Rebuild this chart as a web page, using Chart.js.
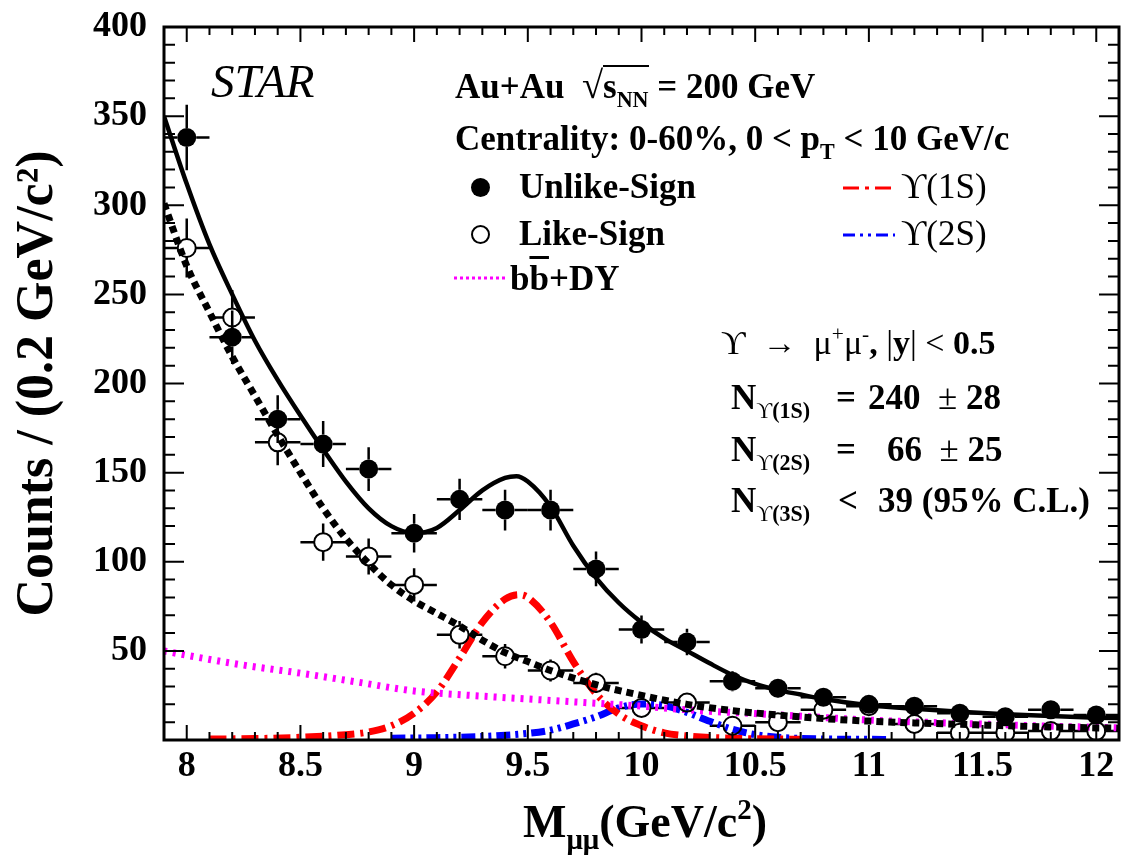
<!DOCTYPE html>
<html>
<head>
<meta charset="utf-8">
<script src="https://cdn.jsdelivr.net/npm/chart.js@4.4.0/dist/chart.umd.min.js"></script>
<style>
    html, body { margin: 0; padding: 0; background: #fff; }
    #wrap { position: relative; width: 1130px; height: 860px; }
    #plot { position: absolute; left: 0; top: 0; }
    .t { position: absolute; white-space: nowrap; line-height: 1; color: #000;
         font-family: "Liberation Serif", "Times New Roman", serif; font-weight: bold; }
    .t sub { font-size: 0.63em; vertical-align: -0.42em; line-height: 0; }
    .t sup { font-size: 0.63em; vertical-align: 0.62em; line-height: 0; }
    .sym { font-weight: normal; }
    .mk { position: absolute; border-radius: 50%; box-sizing: border-box; }
    .smp { position: absolute; }
</style>
</head>
<body>
<div id="wrap">
    <canvas id="plot" width="1130" height="860"></canvas>

    <div class="t" style="left:211px; top:58px; font-size:47px; font-style:italic; font-weight:normal;">STAR</div>

    <div class="t" style="left:455px; top:66px; font-size:35px;">Au+Au&nbsp;&nbsp;<span class="sym" style="font-size:1.1em;">√</span><span style="border-top:2px solid #000;">s<sub>NN</sub></span> = 200 GeV</div>
    <div class="t" style="left:455px; top:121px; font-size:35px;">Centrality: 0-60%, 0 &lt; p<sub>T</sub> &lt; 10 GeV/c</div>

    <div class="mk" style="left:471px; top:178px; width:19px; height:19px; background:#000;"></div>
    <div class="t" style="left:519px; top:169px; font-size:35px;">Unlike-Sign</div>
    <svg class="smp" style="left:843px; top:184px;" width="52" height="8"><line x1="0" y1="4" x2="52" y2="4" stroke="#ff0000" stroke-width="3" stroke-dasharray="16 6 4 6"/></svg>
    <div class="t" style="left:901px; top:169px; font-size:35px; font-weight:normal;">ϒ(1S)</div>

    <div class="mk" style="left:471px; top:225px; width:19px; height:19px; border:2px solid #000;"></div>
    <div class="t" style="left:519px; top:216px; font-size:35px;">Like-Sign</div>
    <svg class="smp" style="left:843px; top:231px;" width="52" height="8"><line x1="0" y1="4" x2="52" y2="4" stroke="#0000ff" stroke-width="3" stroke-dasharray="12 5 3 5 3 5"/></svg>
    <div class="t" style="left:901px; top:216px; font-size:35px; font-weight:normal;">ϒ(2S)</div>

    <svg class="smp" style="left:454px; top:274px;" width="52" height="8"><line x1="0" y1="4" x2="52" y2="4" stroke="#ff00ff" stroke-width="3" stroke-dasharray="3 3"/></svg>
    <div class="t" style="left:510px; top:261px; font-size:35px;">b<span style="text-decoration:overline;">b</span>+DY</div>

    <div class="t" style="left:721px; top:326px; font-size:34px;"><span class="sym">ϒ&nbsp;&nbsp;→&nbsp;&nbsp;μ<sup>+</sup>μ<sup>-</sup></span>, <span class="sym">|</span>y<span class="sym">| &lt;</span> 0.5</div>

    <div class="t" style="left:731px; top:380px; font-size:35px;">N<sub><span class="sym">ϒ</span>(1S)</sub></div>
    <div class="t" style="left:836px; top:380px; font-size:35px;">=</div>
    <div class="t" style="left:868px; top:380px; font-size:35px;">240&nbsp;&nbsp;<span class="sym">±</span> 28</div>

    <div class="t" style="left:731px; top:432px; font-size:35px;">N<sub><span class="sym">ϒ</span>(2S)</sub></div>
    <div class="t" style="left:836px; top:432px; font-size:35px;">=</div>
    <div class="t" style="left:887px; top:432px; font-size:35px;">66&nbsp;&nbsp;<span class="sym">±</span> 25</div>

    <div class="t" style="left:731px; top:483px; font-size:35px;">N<sub><span class="sym">ϒ</span>(3S)</sub></div>
    <div class="t" style="left:838px; top:483px; font-size:35px;">&lt;</div>
    <div class="t" style="left:878px; top:483px; font-size:35px;">39 (95% C.L.)</div>

    <div class="t" style="left:645px; top:799px; font-size:46px; transform:translateX(-50%);">M<sub>μμ</sub>(GeV/c<sup>2</sup>)</div>
</div>

<script>
// dimuon invariant mass bins (bin centres, GeV/c^2), width 0.2
const binX = [8.0, 8.2, 8.4, 8.6, 8.8, 9.0, 9.2, 9.4, 9.6, 9.8, 10.0,
              10.2, 10.4, 10.6, 10.8, 11.0, 11.2, 11.4, 11.6, 11.8, 12.0];
const binHalfWidth = 0.1;

const unlike = [338, 226, 180, 166, 152, 116, 135, 129, 129, 96, 62,
                55, 33, 29, 24, 20, 19, 15, 13, 17, 14];
const unlikeErr = [18.4, 15.0, 13.4, 12.9, 12.3, 10.8, 11.6, 11.4, 11.4, 9.8, 7.9,
                   7.4, 5.7, 5.4, 4.9, 4.5, 4.4, 3.9, 3.6, 4.1, 3.7];

const like = [276, 237, 167, 111, 103, 87, 59, 47, 39, 32, 18,
              21, 8, 10, 17, 19, 9, 4, 4, 5, 5];
const likeErr = [16.6, 15.4, 12.9, 10.5, 10.1, 9.3, 7.7, 6.9, 6.2, 5.7, 4.2,
                 4.6, 2.8, 3.2, 4.1, 4.4, 3.0, 2.0, 2.0, 2.2, 2.2];

// total fit (solid)
const totX = [7.9, 8.0, 8.1, 8.2, 8.3, 8.4, 8.5, 8.6, 8.7, 8.8, 8.9, 9.0, 9.1, 9.2, 9.3,
              9.4, 9.45, 9.5, 9.6, 9.7, 9.8, 9.9, 10.0, 10.1, 10.2, 10.3, 10.4, 10.5,
              10.6, 10.7, 10.8, 11.0, 11.2, 11.4, 11.6, 11.8, 12.0, 12.1];
const totY = [350, 312, 278, 250, 224, 202, 182, 163, 145, 130, 120, 116, 119, 129, 140,
              147, 148, 145, 131, 109, 91, 77, 66, 57, 50, 43, 36.5, 31.5,
              28, 25.5, 23, 19.5, 17.5, 15.8, 14.5, 13.4, 12.5, 12.2];

// like-sign background fit (black dotted)
const bkgX = [7.9, 8.0, 8.1, 8.2, 8.3, 8.4, 8.5, 8.6, 8.7, 8.8, 8.9, 9.0, 9.1, 9.2, 9.3,
              9.4, 9.5, 9.6, 9.8, 10.0, 10.2, 10.4, 10.6, 10.8, 11.0, 11.2, 11.4, 11.6,
              11.8, 12.0, 12.1];
const bkgY = [301, 266, 240, 215, 193, 171, 150, 130, 113, 99, 87, 78, 71, 64, 56,
              49, 44, 39, 31, 25, 20, 16.5, 14, 12, 10.6, 9.6, 8.8, 8,
              7.3, 6.8, 6.6];

// b-bbar + Drell-Yan (magenta)
const bbX = [7.9, 8.0, 8.25, 8.5, 8.75, 9.0, 9.25, 9.5, 9.75, 10.0, 10.25, 10.5, 10.75,
             11.0, 11.5, 12.0, 12.1];
const bbY = [50, 47.5, 42, 37.5, 32.5, 27.5, 25, 23, 21, 19, 16.5, 14.8, 13,
             11.2, 8.9, 7.1, 6.8];

// Upsilon(1S) (red)
const y1sX = [8.1, 8.3, 8.5, 8.7, 8.8, 8.9, 9.0, 9.1, 9.2, 9.3, 9.4, 9.46, 9.5, 9.6,
              9.7, 9.8, 9.9, 10.0, 10.1, 10.2, 10.4, 10.7];
const y1sY = [0.5, 0.8, 1.5, 3, 4.5, 8, 15, 27, 46, 66, 79, 81.5, 80, 66,
              44, 26, 14.5, 8, 4, 2.3, 1, 0.4];

// Upsilon(2S) (blue)
const y2sX = [8.9, 9.1, 9.3, 9.5, 9.6, 9.7, 9.8, 9.9, 10.0, 10.1, 10.2, 10.3, 10.4,
              10.5, 10.6, 10.8, 11.1];
const y2sY = [1, 1.3, 2, 3.7, 5.5, 9, 13, 18, 20.2, 19.3, 15.5, 10.5, 6,
              3, 1.5, 0.6, 0.3];

const xTickValues = [8, 8.5, 9, 9.5, 10, 10.5, 11, 11.5, 12];
const yTickValues = [50, 100, 150, 200, 250, 300, 350, 400];

const pts = (xs, ys) => xs.map((x, i) => ({x: x, y: ys[i]}));
const serif = "'Liberation Serif', 'Times New Roman', serif";

// error bars, kept outside the marker like ROOT does
const errorBars = {
    id: 'errorBars',
    beforeDatasetsDraw(chart) {
        const {ctx, scales: {x, y}} = chart;
        ctx.save();
        ctx.strokeStyle = '#000';
        ctx.lineWidth = 2.5;
        chart.data.datasets.forEach(ds => {
            if (!ds.errY) return;
            const r = ds.pointRadius;
            ds.data.forEach((p, j) => {
                const px = x.getPixelForValue(p.x);
                const py = y.getPixelForValue(p.y);
                const xl = x.getPixelForValue(p.x - ds.errX);
                const xr = x.getPixelForValue(p.x + ds.errX);
                const yt = y.getPixelForValue(p.y + ds.errY[j]);
                const yb = Math.min(y.getPixelForValue(p.y - ds.errY[j]), chart.chartArea.bottom);
                ctx.beginPath();
                ctx.moveTo(xl, py); ctx.lineTo(px - r, py);
                ctx.moveTo(px + r, py); ctx.lineTo(xr, py);
                if (yt < py - r) { ctx.moveTo(px, yt); ctx.lineTo(px, py - r); }
                if (yb > py + r) { ctx.moveTo(px, py + r); ctx.lineTo(px, yb); }
                ctx.stroke();
            });
        });
        ctx.restore();
    }
};

// frame with inward ticks on all four sides
const rootFrame = {
    id: 'rootFrame',
    afterDraw(chart) {
        const {ctx, chartArea: a, scales: {x, y}} = chart;
        ctx.save();
        ctx.strokeStyle = '#000';
        ctx.lineWidth = 2;
        ctx.beginPath();
        for (let i = 80; i <= 121; i++) {
            const px = x.getPixelForValue(i / 10);
            const len = i % 5 === 0 ? 15 : 8;
            ctx.moveTo(px, a.bottom); ctx.lineTo(px, a.bottom - len);
            ctx.moveTo(px, a.top); ctx.lineTo(px, a.top + len);
        }
        for (let v = 10; v < 400; v += 10) {
            const py = y.getPixelForValue(v);
            const len = v % 50 === 0 ? 20 : 11;
            ctx.moveTo(a.left, py); ctx.lineTo(a.left + len, py);
            ctx.moveTo(a.right, py); ctx.lineTo(a.right - len, py);
        }
        ctx.stroke();
        ctx.lineWidth = 3;
        ctx.strokeRect(a.left, a.top, a.right - a.left, a.bottom - a.top);
        ctx.restore();
    }
};

const curve = (label, xs, ys, color, width, dash, order) => ({
    type: 'line',
    label: label,
    data: pts(xs, ys),
    borderColor: color,
    borderWidth: width,
    borderDash: dash,
    borderCapStyle: 'butt',
    pointRadius: 0,
    cubicInterpolationMode: 'monotone',
    fill: false,
    order: order
});

new Chart(document.getElementById('plot'), {
    type: 'scatter',
    data: {
        datasets: [
            {
                label: 'Like-Sign',
                data: pts(binX, like),
                errY: likeErr,
                errX: binHalfWidth,
                pointStyle: 'circle',
                pointRadius: 9,
                pointBackgroundColor: 'rgba(0,0,0,0)',
                pointBorderColor: '#000',
                pointBorderWidth: 2,
                order: 0
            },
            {
                label: 'Unlike-Sign',
                data: pts(binX, unlike),
                errY: unlikeErr,
                errX: binHalfWidth,
                pointStyle: 'circle',
                pointRadius: 9.5,
                pointBackgroundColor: '#000',
                pointBorderColor: '#000',
                pointBorderWidth: 0,
                order: 1
            },
            curve('Total fit', totX, totY, '#000', 4.5, [], 2),
            curve('Like-sign fit', bkgX, bkgY, '#000', 7, [7, 5], 3),
            curve('bb+DY', bbX, bbY, '#ff00ff', 7, [3, 6], 4),
            curve('Υ(1S)', y1sX, y1sY, '#ff0000', 7, [17, 6, 3, 6], 5),
            curve('Υ(2S)', y2sX, y2sY, '#0000ff', 7, [14, 5, 3, 5, 3, 5], 6)
        ]
    },
    options: {
        responsive: false,
        animation: false,
        events: [],
        layout: { padding: { top: 27, right: 3, left: 0, bottom: 0 } },
        plugins: {
            legend: { display: false },
            tooltip: { enabled: false }
        },
        scales: {
            x: {
                type: 'linear',
                position: 'bottom',
                min: 7.9,
                max: 12.1,
                afterBuildTicks: s => { s.ticks = xTickValues.map(v => ({value: v})); },
                afterFit: s => { s.height = 120; s.paddingLeft = 0; s.paddingRight = 0; },
                grid: { display: false, drawTicks: false },
                border: { display: false },
                ticks: {
                    color: '#000',
                    padding: 5,
                    maxRotation: 0,
                    autoSkip: false,
                    font: { family: serif, weight: 'bold', size: 36 },
                    callback: v => String(v)
                }
            },
            y: {
                type: 'linear',
                position: 'left',
                min: 0,
                max: 400,
                afterBuildTicks: s => { s.ticks = yTickValues.map(v => ({value: v})); },
                afterFit: s => { s.width = 164; s.paddingTop = 0; s.paddingBottom = 0; },
                grid: { display: false, drawTicks: false },
                border: { display: false },
                ticks: {
                    color: '#000',
                    padding: 17,
                    autoSkip: false,
                    font: { family: serif, weight: 'bold', size: 36 },
                    callback: v => String(v)
                },
                title: {
                    display: true,
                    text: 'Counts / (0.2 GeV/c²)',
                    color: '#000',
                    padding: { top: 7, bottom: 0 },
                    font: { family: serif, weight: 'bold', size: 52 }
                }
            }
        }
    },
    plugins: [errorBars, rootFrame]
});
</script>
</body>
</html>
